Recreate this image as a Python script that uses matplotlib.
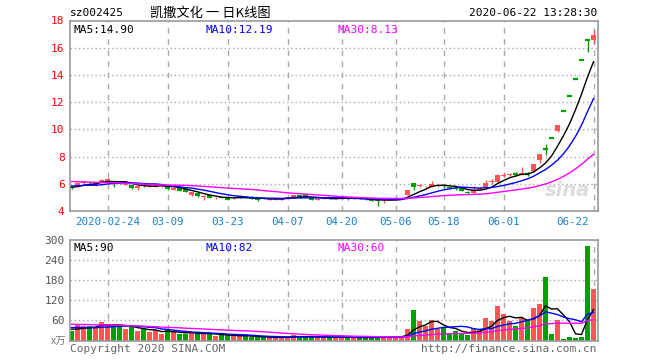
import numpy as np
import pandas as pd
import matplotlib
matplotlib.use("Agg")
import matplotlib.pyplot as plt
import matplotlib.transforms as mtransforms

# ---- data (sz002425, daily) ----
# closes / volumes before the visible window, only used to start the moving averages
prior_close = [6.5, 6.6, 6.5, 6.4, 6.5, 6.6, 6.7, 6.6, 6.5, 6.4, 6.4, 6.5, 6.5, 6.4, 6.3,
               6.2, 5.6, 5.7, 5.8, 5.9, 5.95, 5.85, 5.9, 6.0, 5.95, 5.8, 5.7, 5.75, 5.8]
prior_vol = [55, 60, 50, 65, 58, 52, 70, 62, 55, 48, 50, 45, 60, 52, 48,
             55, 40, 45, 52, 48, 42, 46, 50, 40, 38, 44, 35, 32, 30]

open_ = [5.77, 5.80, 6.03, 6.10, 5.94, 6.10, 6.17, 6.20, 6.03, 5.92, 5.88, 5.68, 5.92, 5.80, 5.84,
         5.84, 5.85, 5.56, 5.75, 5.70, 5.15, 5.34, 5.05, 5.17, 4.96, 5.02, 4.93, 4.92, 4.98, 5.05,
         5.05, 4.92, 4.95, 4.86, 4.80, 4.88, 4.96, 4.95, 5.12, 5.24, 4.95, 4.82, 4.90, 4.97, 4.93,
         4.95, 4.97, 4.92, 5.00, 4.90, 4.88, 4.89, 4.80, 4.84, 4.86, 4.90, 5.17, 6.04, 5.86, 5.75,
         5.80, 5.88, 5.88, 5.78, 5.68, 5.68, 5.42, 5.30, 5.58, 5.73, 6.12, 6.10, 6.60, 6.66, 6.72,
         6.65, 6.72, 6.94, 7.72, 8.52, 9.37, 9.90, 11.34, 12.47, 13.72, 15.09, 16.60, 16.60]
high = [5.80, 6.12, 6.22, 6.15, 6.05, 6.35, 6.45, 6.22, 6.10, 6.02, 5.90, 5.88, 5.95, 5.90, 5.95,
        5.90, 5.88, 5.75, 5.78, 5.72, 5.38, 5.38, 5.20, 5.20, 5.03, 5.05, 4.98, 5.00, 5.12, 5.08,
        5.07, 4.95, 4.97, 4.92, 4.97, 4.95, 5.03, 5.20, 5.15, 5.26, 4.97, 4.90, 4.98, 4.99, 4.99,
        5.00, 4.99, 4.96, 5.03, 4.93, 4.90, 4.90, 4.88, 4.88, 4.92, 5.00, 5.53, 6.08, 6.00, 5.85,
        6.20, 6.00, 5.95, 5.80, 5.72, 5.70, 5.45, 5.85, 5.78, 6.26, 6.35, 6.70, 6.78, 6.80, 6.85,
        7.20, 6.85, 7.45, 8.17, 8.90, 9.37, 10.31, 11.34, 12.47, 13.72, 15.09, 16.60, 17.30]
low = [5.64, 5.75, 6.00, 6.02, 5.85, 6.05, 6.10, 5.80, 5.95, 5.88, 5.62, 5.55, 5.78, 5.75, 5.80,
       5.80, 5.55, 5.52, 5.45, 5.38, 5.10, 5.02, 4.82, 4.92, 4.85, 4.95, 4.85, 4.88, 4.95, 4.95,
       4.88, 4.75, 4.88, 4.80, 4.78, 4.82, 4.92, 4.93, 5.05, 5.05, 4.78, 4.80, 4.86, 4.90, 4.90,
       4.90, 4.84, 4.88, 4.86, 4.82, 4.74, 4.40, 4.60, 4.80, 4.84, 4.88, 5.15, 5.53, 5.75, 5.65,
       5.78, 5.80, 5.70, 5.62, 5.58, 5.45, 5.28, 5.28, 5.52, 5.70, 6.00, 6.05, 6.50, 6.60, 6.60,
       6.62, 6.60, 6.90, 7.55, 8.10, 9.37, 9.80, 11.34, 12.47, 13.72, 15.09, 15.70, 16.25]
close = [5.68, 6.05, 6.17, 6.05, 5.97, 6.30, 6.38, 6.12, 6.00, 5.98, 5.68, 5.85, 5.82, 5.83, 5.92,
         5.87, 5.60, 5.72, 5.48, 5.40, 5.36, 5.08, 5.10, 4.97, 4.99, 4.98, 4.90, 4.97, 5.08, 4.98,
         4.90, 4.80, 4.90, 4.88, 4.95, 4.90, 5.00, 5.17, 5.10, 5.07, 4.80, 4.86, 4.95, 4.93, 4.96,
         4.97, 4.86, 4.93, 4.88, 4.85, 4.76, 4.70, 4.83, 4.86, 4.89, 4.96, 5.53, 5.80, 5.90, 5.78,
         6.02, 5.91, 5.85, 5.67, 5.62, 5.48, 5.30, 5.53, 5.68, 6.05, 6.17, 6.63, 6.64, 6.70, 6.70,
         6.82, 6.70, 7.43, 8.16, 8.52, 9.37, 10.31, 11.34, 12.47, 13.72, 15.09, 16.60, 16.95]
volume = [28, 47, 43, 43, 40, 55, 48, 47, 42, 33, 43, 27, 33, 25, 30,
          18, 33, 24, 20, 20, 22, 22, 20, 20, 13, 15, 15, 15, 13, 13,
          10, 9, 10, 9, 9, 9, 10, 17, 12, 10, 9, 9, 12, 10, 9,
          9, 9, 9, 9, 9, 9, 9, 12, 12, 12, 10, 33, 90, 58, 42,
          60, 35, 38, 20, 27, 20, 15, 38, 35, 67, 58, 102, 78, 57, 42,
          67, 57, 98, 108, 189, 18, 60, 5, 10, 6, 9, 282, 153]

date_ticks = [6, 16, 26, 36, 45, 54, 62, 72, 87]
date_labels = ["2020-02-24", "03-09", "03-23", "04-07", "04-20", "05-06", "05-18", "06-01", "06-22"]
price_ticks = [4, 6, 8, 10, 12, 14, 16, 18]
vol_ticks = [60, 120, 180, 240, 300]

RED = "#ff5555"
GREEN = "#00a000"
GRID = "#aaaaaa"
MONO = "DejaVu Sans Mono"

o = np.array(open_)
h = np.array(high)
l = np.array(low)
c = np.array(close)
v = np.array(volume)
x = np.arange(len(c))
cols = [RED if cc > oo else GREEN for oo, cc in zip(o, c)]

all_close = pd.Series(prior_close + close)
all_vol = pd.Series(prior_vol + volume)
n0 = len(prior_close)
ma_p = {n: all_close.rolling(n).mean().values[n0:] for n in (5, 10, 30)}
ma_v = {n: all_vol.rolling(n).mean().values[n0:] for n in (5, 10, 30)}
ma_cols = {5: "black", 10: "#0000ff", 30: "#ff00ff"}

W, H = 660, 360
fig = plt.figure(figsize=(6.6, 3.6), dpi=100)
L, R = 69.5, 598


def px_axes(top, bottom):
    return fig.add_axes([L / W, 1 - bottom / H, (R - L) / W, (bottom - top) / H])


ax1 = px_axes(20.5, 211)
ax2 = px_axes(240, 340.5)

for ax in (ax1, ax2):
    ax.set_xlim(-0.35, 87.75)
    for s in ax.spines.values():
        s.set_color("#999999")
        s.set_linewidth(1.2)
    ax.tick_params(length=0)
    for t in date_ticks:
        ax.axvline(t, color=GRID, lw=1, ls=(0, (4, 4)), zorder=0)

# ---- candles ----
ax1.set_ylim(4, 18)
for y in price_ticks[1:-1]:
    ax1.axhline(y, color=GRID, lw=1, ls=(0, (1, 2)), zorder=0)
ax1.vlines(x, l, h, colors=cols, lw=1, zorder=2)
body = np.abs(c - o)
flat = body < 0.03
ax1.bar(x[~flat], body[~flat], bottom=np.minimum(o, c)[~flat], width=0.8,
        color=np.array(cols)[~flat], zorder=3)
ax1.hlines(c[flat], x[flat] - 0.45, x[flat] + 0.45, colors=np.array(cols)[flat], lw=1.6, zorder=3)
for n in (5, 10, 30):
    ax1.plot(x, ma_p[n], color=ma_cols[n], lw=1.0, zorder=4)

ax1.set_yticks(price_ticks)
ax1.set_yticklabels([str(t) for t in price_ticks], color="red", fontsize=8, family=MONO)
ax1.set_xticks(date_ticks)
ax1.set_xticklabels(date_labels, color="#1a80d0", fontsize=7.8, family=MONO)
ax1.tick_params(axis="x", pad=4)
lab = ax1.get_xticklabels()[-1]
lab.set_ha("right")
lab.set_transform(lab.get_transform() + mtransforms.ScaledTranslation(-0.05, 0, fig.dpi_scale_trans))

ax1.text(0.008, 0.975, "MA5:14.90", transform=ax1.transAxes, va="top",
         fontsize=8, family=MONO, color="black")
ax1.text((205 - L) / (R - L), 0.975, "MA10:12.19", transform=ax1.transAxes, va="top",
         fontsize=8, family=MONO, color="#0000ff")
ax1.text((337 - L) / (R - L), 0.975, "MA30:8.13", transform=ax1.transAxes, va="top",
         fontsize=8, family=MONO, color="#ff00ff")
ax1.text(0.985, 0.06, "sina", transform=ax1.transAxes, ha="right", va="bottom",
         fontsize=14, style="italic", weight="bold", color="#dcdcdc", zorder=1)

# ---- volume ----
ax2.set_ylim(0, 300)
for y in vol_ticks[:-1]:
    ax2.axhline(y, color=GRID, lw=1, ls=(0, (1, 2)), zorder=0)
ax2.bar(x, v, width=0.8, color=cols, zorder=2)
for n in (5, 10, 30):
    ax2.plot(x, ma_v[n], color=ma_cols[n], lw=1.0, zorder=3)
ax2.set_yticks(vol_ticks)
ax2.set_yticklabels([str(t) for t in vol_ticks], color="#555555", fontsize=8, family=MONO)
ax2.set_xticks([])
ax2.text(0.008, 0.97, "MA5:90", transform=ax2.transAxes, va="top", fontsize=8, family=MONO, color="black")
ax2.text((205 - L) / (R - L), 0.97, "MA10:82", transform=ax2.transAxes, va="top",
         fontsize=8, family=MONO, color="#0000ff")
ax2.text((337 - L) / (R - L), 0.97, "MA30:60", transform=ax2.transAxes, va="top",
         fontsize=8, family=MONO, color="#ff00ff")

# ---- header / footer text ----
fig.text(70 / W, 1 - 13 / H, "sz002425", fontsize=8, family=MONO, va="center")
fig.text(150 / W, 1 - 13 / H, "凯撒文化 一 日K线图", fontsize=9.5,
         family=["Noto Sans CJK SC", "DejaVu Sans"], va="center")
fig.text(597 / W, 1 - 13 / H, "2020-06-22 13:28:30", fontsize=8, family=MONO, va="center", ha="right")
fig.text(66 / W, 1 - 342 / H, "x万", fontsize=7.5, family=["Noto Sans CJK SC", "DejaVu Sans"],
         va="center", ha="right", color="#777777")
fig.text(70 / W, 1 - 349 / H, "Copyright 2020 SINA.COM", fontsize=8, family=MONO,
         va="center", color="#666666")
fig.text(597 / W, 1 - 349 / H, "http://finance.sina.com.cn", fontsize=8, family=MONO,
         va="center", ha="right", color="#666666")

fig.savefig("out.png", dpi=100)
